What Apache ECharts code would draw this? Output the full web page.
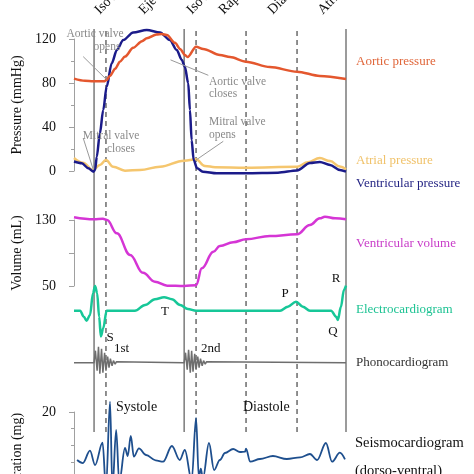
<!DOCTYPE html>
<html><head><meta charset="utf-8">
<script src="https://cdn.jsdelivr.net/npm/echarts@6/dist/echarts.min.js"></script>
<style>html,body{margin:0;padding:0;background:#fff}#c{width:474px;height:474px}</style>
</head><body><div id="c"></div>
<script>
// time axis in ms over one cardiac cycle (0..800)
const phaseBoundaries = [59, 94, 324, 359, 506, 656, 800];
const boundarySolid = [true, false, true, false, false, false, true];
const phaseNames = ['Isovolumic contraction', 'Ejection', 'Isovolumic relaxation', 'Rapid inflow', 'Diastasis', 'Atrial systole'];

const aorticPressure = [[0,84],[32,82],[57,81.5],[88,81.5],[96,82.7],[106,86.5],[121,93],[135,99.4],[150,104],[174,112],[200,118],[214,120.6],[243,124.2],[258,124.5],[273,123.6],[297,116.5],[312,111],[326,105.5],[334,103.6],[359,113],[380,111],[429,105.5],[459,103.6],[506,99.4],[576,94.5],[656,90.3],[723,86.4],[800,83.6]];
const ventricularPressure = [[0,8.6],[23,7],[42,2.5],[57,-0.6],[62,0.9],[67,13],[76,34],[86,55.5],[96,76.6],[111,98],[126,110],[145,119],[174,126],[214,128.2],[253,126],[282,119],[302,110],[317,101],[326,94.8],[336,79.7],[341,55.5],[346,28],[352,10],[362,2.5],[379,-0.6],[420,-2.1],[506,-2],[600,-1.5],[656,0.5],[694,7.3],[723,8.2],[753,5.5],[782,0.9],[800,-0.6]];
const atrialPressure = [[0,11.8],[26,7.5],[56,0.9],[76,5.5],[94,10],[115,3.9],[150,0.3],[194,0.9],[253,3.9],[324,9.4],[359,10.6],[385,4.5],[415,3.5],[506,3],[656,3.9],[688,8],[723,11.8],[753,9],[782,4],[800,1.5]];
const ventricularVolume = [[0,133.3],[59,130.8],[85,131.5],[97,130],[126,113.8],[165,87.6],[203,66],[238,55.2],[274,50.4],[324,50],[359,51],[376,71.5],[410,91.6],[429,98.5],[468,103],[506,106.6],[576,110.6],[656,112.7],[694,124],[723,132],[738,134],[768,132],[800,130.8]];
const ecg = [[0,0],[18,0],[29,-0.24],[37,-0.4],[47,-0.17],[56,0.7],[62,0.99],[68,0.7],[74,-0.24],[79,-1.03],[86,-0.7],[96,0],[179,0],[209,0.23],[238,0.46],[265,0.54],[288,0.46],[312,0.23],[335,0.07],[359,0],[606,0],[629,0.16],[653,0.36],[673,0.16],[694,0],[756,0],[771,-0.24],[776,-0.37],[785,0.16],[794,0.83],[800,1]];
const phono = [[0,0],[59,0],[63,12],[68,-8],[72,16],[76,-11],[81,14],[85,-10],[90,10],[94,-8],[99,6],[103,-5],[107,4],[112,-3],[116,2],[121,-1.5],[125,1],[129,0],[324,0],[328,10],[333,-7],[337,13],[342,-10],[346,12],[350,-9],[355,9],[359,-7],[364,6],[368,-5],[372,4],[377,-3],[381,2],[386,-1.5],[390,1],[394,0],[800,0]];
const seismo = [[9,5.6],[26,4.7],[47,8.4],[62,4.1],[84,10.8],[94,-3],[106,23.1],[113,-3],[124,14.6],[133,-1],[150,9.2],[158,6.8],[167,12.8],[176,6.6],[191,9.1],[212,7.1],[240,5.5],[262,5.1],[288,9.8],[311,5.6],[326,8.6],[346,-0.5],[359,18.2],[367,0.5],[373,3],[379,0],[397,10.7],[412,2.6],[429,5.6],[444,7.7],[468,8.9],[488,8],[503,8.1],[506,9],[518,5.1],[547,5.9],[585,6.8],[626,5.9],[665,6.4],[694,7.4],[715,5.6],[741,10.7],[759,5.1],[782,7.8],[797,5.8]];

const pressureTicks = [0, 40, 80, 120];
const volumeTicks = [50, 130];
const seismoTicks = [20];

const FONT = '"Liberation Serif", "Times New Roman", serif';
const AX = '#a0a0a0';

const chart = echarts.init(document.getElementById('c'), null, {renderer: 'canvas'});

const grids = [
  {left: 74, width: 272, top: 29, height: 403},
  {left: 74, width: 272, top: 39, height: 132},
  {left: 74, width: 272, top: 220, height: 66},
  {left: 74, width: 272, top: 280.7, height: 60},
  {left: 74, width: 272, top: 342.7, height: 40},
  {left: 74, width: 272, top: 412, height: 66.7}
].map(g => Object.assign({outerBoundsMode: 'none', containLabel: false}, g));
const xAxes = grids.map((g, i) => ({type: 'value', gridIndex: i, min: 0, max: 800, show: false}));
function visAxis(extra) {
  return Object.assign({
    type: 'value', offset: 8,
    axisLine: {show: true, lineStyle: {color: AX, width: 1}},
    axisTick: {show: true, length: 5, lineStyle: {color: AX}},
    splitLine: {show: false},
    axisLabel: {color: '#111', fontSize: 14, fontFamily: FONT, margin: 10},
    nameLocation: 'middle', nameGap: 42,
    nameTextStyle: {color: '#111', fontSize: 14, fontFamily: FONT}
  }, extra);
}
const yAxes = [
  {type: 'value', gridIndex: 0, min: 0, max: 1, show: false},
  visAxis({gridIndex: 1, min: 0, max: 120, interval: 40, name: 'Pressure (mmHg)',
    minorTick: {show: true, splitNumber: 2, length: 3, lineStyle: {color: AX}},
    axisLabel: {color: '#111', fontSize: 14, fontFamily: FONT, margin: 10, formatter: v => pressureTicks.includes(v) ? String(v) : ''}}),
  visAxis({gridIndex: 2, min: 50, max: 130, name: 'Volume (mL)',
    axisTick: {show: true, length: 5, lineStyle: {color: AX}, customValues: [50, 90, 130]},
    axisLabel: {color: '#111', fontSize: 14, fontFamily: FONT, margin: 10, customValues: volumeTicks}}),
  {type: 'value', gridIndex: 3, min: -1.2, max: 1.2, show: false},
  {type: 'value', gridIndex: 4, min: -20, max: 20, show: false},
  visAxis({gridIndex: 5, min: 0, max: 20, interval: 20,
    minorTick: {show: true, splitNumber: 4, length: 3, lineStyle: {color: AX}},
    axisLabel: {color: '#111', fontSize: 14, fontFamily: FONT, margin: 10, formatter: v => seismoTicks.includes(v) ? String(v) : ''}})
];

const series = [];
phaseBoundaries.forEach((t, i) => {
  const solid = boundarySolid[i];
  series.push({type: 'line', xAxisIndex: 0, yAxisIndex: 0, data: [[t, 0], [t, 1]], symbol: 'none', silent: true, z: 1,
    lineStyle: {color: solid ? '#7a7a7a' : '#6a6a6a', width: 1.5, type: solid ? 'solid' : [5, 4]}});
});
function curve(data, gi, color, width, smooth) {
  return {type: 'line', xAxisIndex: gi, yAxisIndex: gi, data, symbol: 'none', smooth: smooth, smoothMonotone: 'x',
    clip: false, silent: true, z: 3, lineStyle: {color, width}};
}
series.push(curve(atrialPressure, 1, '#f5c66e', 2.5, 0.4));
series.push(curve(ventricularPressure, 1, '#1b1b8a', 2.5, 0.3));
const ao = curve(aorticPressure, 1, '#e4572e', 2.5, 0.3);
ao.markLine = {silent: true, symbol: ['none', 'none'], label: {show: false}, animation: false,
  lineStyle: {color: '#9a9a9a', width: 1, type: 'solid'},
  data: [
    [{coord: [27, 104]}, {coord: [96, 83]}],
    [{coord: [284, 101]}, {coord: [395, 87]}],
    [{coord: [439, 27]}, {coord: [359, 10]}],
    [{coord: [27, 30]}, {coord: [57, 1]}]
  ]};
series.push(ao);
series.push(curve(ventricularVolume, 2, '#d535d5', 2.5, 0.4));
series.push(curve(ecg, 3, '#17c798', 2.5, 0.35));
series.push(curve(phono, 4, '#6e6e6e', 1.5, false));
series.push(curve(seismo, 5, '#1e4f8e', 1.8, 0.35));

function txt(x, y, text, color, size, align, valign, rot) {
  return {type: 'text', x, y, rotation: rot || 0, silent: true, z: 100,
    style: {text, fill: color, fontSize: size, fontFamily: FONT,
      textAlign: align || 'left', textVerticalAlign: valign || 'middle',
      align: align || 'left', verticalAlign: valign || 'middle'}};
}
const phaseLabelX = [102, 146, 194, 226, 275, 325];
const graphics = [];
phaseNames.forEach((n, i) => graphics.push(txt(phaseLabelX[i], 17, n, '#111', 14, 'left', 'bottom', Math.PI / 4)));
graphics.push(
  txt(356, 62, 'Aortic pressure', '#e0663a', 13),
  txt(356, 161, 'Atrial pressure', '#f0c26a', 13),
  txt(356, 184, 'Ventricular pressure', '#1f1f80', 13),
  txt(356, 244, 'Ventricular volume', '#c83cc8', 13),
  txt(356, 310, 'Electrocardiogram', '#1dc393', 13),
  txt(356, 363, 'Phonocardiogram', '#333', 13),
  txt(355, 443, 'Seismocardiogram', '#111', 14.5),
  txt(355, 471, '(dorso-ventral)', '#111', 14.5),
  txt(95, 34, 'Aortic valve', '#8a8a8a', 11.5, 'center'),
  txt(107, 47, 'opens', '#8a8a8a', 11.5, 'center'),
  txt(209, 82, 'Aortic valve', '#8a8a8a', 11.5),
  txt(209, 94, 'closes', '#8a8a8a', 11.5),
  txt(209, 122, 'Mitral valve', '#8a8a8a', 11.5),
  txt(209, 135, 'opens', '#8a8a8a', 11.5),
  txt(111, 136, 'Mitral valve', '#8a8a8a', 11.5, 'center'),
  txt(121, 149, 'closes', '#8a8a8a', 11.5, 'center'),
  txt(165, 312, 'T', '#111', 13, 'center'),
  txt(110, 338, 'S', '#111', 13, 'center'),
  txt(285, 294, 'P', '#111', 13, 'center'),
  txt(336, 279, 'R', '#111', 13, 'center'),
  txt(333, 332, 'Q', '#111', 13, 'center'),
  txt(114, 349, '1st', '#111', 13),
  txt(201, 349, '2nd', '#111', 13),
  txt(116, 407, 'Systole', '#111', 14),
  txt(243, 407, 'Diastole', '#111', 14),
  txt(17, 464, 'Acceleration (mg)', '#111', 14, 'center', 'middle', Math.PI / 2)
);

chart.setOption({
  animation: false,
  backgroundColor: '#fff',
  grid: grids,
  xAxis: xAxes,
  yAxis: yAxes,
  series,
  graphic: graphics
});
</script></body></html>
